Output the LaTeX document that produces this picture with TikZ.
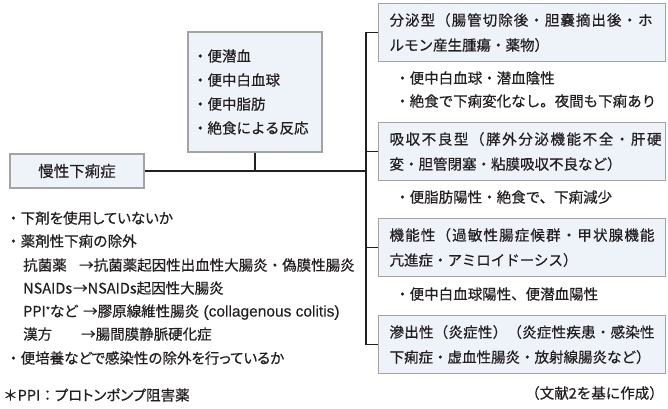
\documentclass[tikz,border=0pt]{standalone}
\usepackage{fontspec}
\setmainfont{Noto Sans CJK JP}[FakeBold=0.5]
\newfontfamily\pk{Noto Sans CJK JP}[RawFeature=+palt, FakeBold=0.5]
\newfontfamily\lat{Liberation Sans}[FakeBold=0.3]
\definecolor{ink}{HTML}{231F20}
\definecolor{boxfill}{HTML}{EEF3F9}
\definecolor{boxline}{HTML}{A3A3A3}
\def\jst#1#2{\leavevmode\hbox to #1{\jstx#2\relax}}
\def\jstx#1{#1\futurelet\jstnext\jsty}
\def\jsty{\ifx\jstnext\relax\expandafter\jstend\else\hfil\expandafter\jstx\fi}
\def\jstend\relax{}
\tikzset{
  x=1pt, y=1pt,
  every node/.style={text=ink},
  bigbox/.style={draw=boxline, fill=boxfill, line width=1.1pt, inner ysep=0pt,
     inner xsep=11pt, text width=265pt, align=left, minimum height=58pt,
     font=\fontsize{14.5}{25}\selectfont},
  testbox/.style={draw=boxline, fill=boxfill, line width=1.1pt, inner ysep=0pt,
     inner xsep=5pt, text width=124pt, align=left, minimum height=120pt,
     font=\fontsize{14.5}{24}\selectfont},
  mainbox/.style={draw=boxline, fill=boxfill, line width=1.1pt,
     minimum width=134pt, minimum height=34pt, inner sep=0pt,
     font=\fontsize{15.5}{18}\selectfont},
  txt/.style={anchor=west, inner sep=0pt, text height=12.8pt, text depth=1.7pt,
     font=\fontsize{14.5}{18}\selectfont},
  conn/.style={draw=ink, line width=1.3pt},
}
\begin{document}
\begin{tikzpicture}
\useasboundingbox (0,0) rectangle (668,-408);
% boxes
\node[mainbox] (main) at (77,-171) {慢性下痢症};
\node[testbox] (tests) at (255,-92) {・便潜血\\・便中白血球\\・便中脂肪\\・絶食による反応};
\node[bigbox, anchor=north west] (b1) at (378,-3)
  {\jst{263pt}{分泌型（腸管切除後・胆嚢摘出後・ホ}\\ルモン産生腫瘍・薬物）};
\node[bigbox, anchor=north west] (b2) at (378,-122)
  {\jst{272pt}{吸収不良型（膵外分泌機能不全・肝硬}\\変・胆管閉塞・粘膜吸収不良など）};
\node[bigbox, anchor=north west] (b3) at (378,-218)
  {\jst{265pt}{機能性（過敏性腸症候群・甲状腺機能}\\亢進症・アミロイドーシス）};
\node[bigbox, anchor=north west] (b4) at (378,-315)
  {\jst{265pt}{滲出性（炎症性）（炎症性疾患・感染性}\\下痢症・虚血性腸炎・放射線腸炎など）};
% notes under right boxes
\node[txt] (n1a) at (395,-78) {・便中白血球・潜血陰性};
\node[txt] (n1b) at (395,-101) {・絶食で下痢変化なし。夜間も下痢あり};
\node[txt] (n2) at (395,-197) {・便脂肪陽性・絶食で、下痢減少};
\node[txt] (n3) at (395,-294) {・便中白血球陽性、便潜血陽性};
% left notes
\node[txt] (l1) at (6,-218) {・下剤{\pk を}使用{\pk していないか}};
\node[txt] (l2) at (6,-241) {・薬剤性下痢の除外};
\node[txt] (l3a) at (23,-265) {抗菌薬};
\node[txt] (l3b) at (79,-265) {→抗菌薬起因性出血性大腸炎・偽膜性腸炎};
\node[txt] (l4a) at (23,-288) {NSAIDs};
\node[txt] (l4b) at (73,-288) {→NSAIDs起因性大腸炎};
\node[txt] (l5a) at (23,-311) {PPI\raisebox{3pt}{\fontsize{9}{9}\selectfont *}{\pk など}};
\node[txt] (l5b) at (83,-311) {→膠原線維性腸炎{\lat\fontsize{15.5}{18}\selectfont\ (collagenous colitis)}};
\node[txt] (l6a) at (23,-334) {漢方};
\node[txt] (l6b) at (81,-334) {→腸間膜静脈硬化症};
\node[txt] (l7) at (6,-358) {・便培養{\pk などで}感染性{\pk の}除外{\pk を}行{\pk っているか}};
\node[txt] (fn) at (3,-395) {＊PPI：{\pk プロトンポンプ}阻害薬};
\node[txt, anchor=east] (src) at (664,-393) {（文献2を基に作成）};
% connectors
\coordinate (tr) at (366,0);
\draw[conn] (b1.west) -- (b1.west -| tr) -- (b4.west -| tr) -- (b4.west);
\draw[conn] (b2.west) -- (b2.west -| tr);
\draw[conn] (b3.west) -- (b3.west -| tr);
\draw[conn] (main.east) -- (main.east -| tr);
\draw[conn] (tests.south) -- (tests.south |- main.east);
\end{tikzpicture}
\end{document}
